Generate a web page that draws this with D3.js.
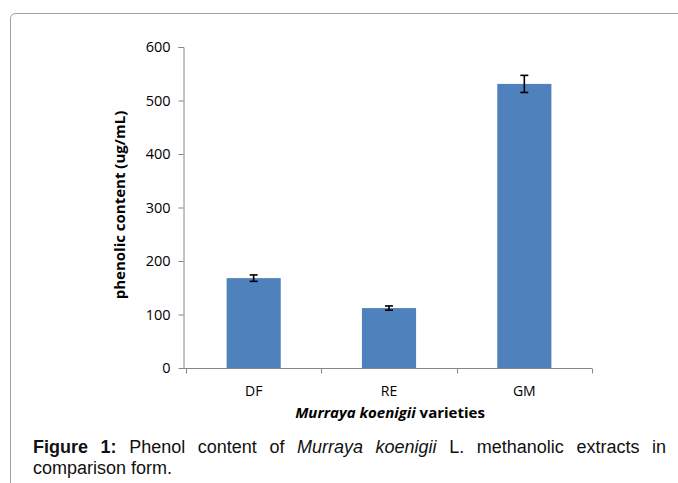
<!DOCTYPE html>
<html><head><meta charset="utf-8">
<script src="https://cdn.jsdelivr.net/npm/d3@7"></script>
<style>body{margin:0;background:#fff}svg{display:block}</style>
</head><body>
<svg id="c" width="678" height="483"></svg>
<script>
const categories = ["DF", "RE", "GM"];
const values = [168, 112, 531];
const errors = [6, 4, 16];
const yTicks = [0, 100, 200, 300, 400, 500, 600];

const svg = d3.select("#c");
const F = "'Open Sans', Lato, 'Liberation Sans', sans-serif";

// frame
svg.append("path").attr("d","M10.5,483 L10.5,19 Q10.5,13.5 16,13.5 L678,13.5")
  .attr("fill","none").attr("stroke","#a0a0a0").attr("stroke-width",1);

const x = d3.scaleBand().domain(categories).range([186, 592]).paddingInner(0.6).paddingOuter(0.3);
const y = d3.scaleLinear().domain([0, 600]).range([368, 47]);

// bars
svg.selectAll("rect.bar").data(categories).join("rect").attr("class","bar")
  .attr("x", d => x(d)).attr("width", x.bandwidth())
  .attr("y", (d,i) => y(values[i])).attr("height", (d,i) => y(0) - y(values[i]))
  .attr("fill","#4f81bd");

// error bars
const eg = svg.append("g").attr("stroke","#000").attr("stroke-width",1.6);
categories.forEach((c,i) => {
  const cx = x(c) + x.bandwidth()/2;
  const y1 = y(values[i] + errors[i]), y2 = y(values[i] - errors[i]);
  eg.append("line").attr("x1",cx).attr("x2",cx).attr("y1",y1).attr("y2",y2);
  eg.append("line").attr("x1",cx-4).attr("x2",cx+4).attr("y1",y1).attr("y2",y1);
  eg.append("line").attr("x1",cx-4).attr("x2",cx+4).attr("y1",y2).attr("y2",y2);
});

// y axis
const ya = svg.append("g").attr("transform","translate(183.5,0)")
  .call(d3.axisLeft(y).tickValues(yTicks).tickSize(5).tickPadding(8));
ya.select(".domain").attr("stroke","#868686").attr("d","M-5,"+(y(600)+0.5)+"H0.5V"+(y(0)+0.5));
ya.selectAll(".tick line").attr("stroke","#868686");
ya.selectAll(".tick text").attr("font-family",F).attr("font-size",14.5).attr("fill","#000");

// x axis
const xa = svg.append("g").attr("transform","translate(0,"+(y(0)+0.5)+")");
xa.append("line").attr("x1",183).attr("x2",592).attr("stroke","#868686");
const bounds = [x.range()[0]].concat(categories.map(c => x(c) + x.bandwidth()/2 + x.step()/2));
bounds.forEach(b => xa.append("line").attr("x1",Math.round(b)+0.5).attr("x2",Math.round(b)+0.5).attr("y1",0).attr("y2",5).attr("stroke","#868686"));
categories.forEach(c => xa.append("text").attr("x", x(c)+x.bandwidth()/2).attr("y",27)
  .attr("text-anchor","middle").attr("font-family",F).attr("font-size",14).text(c));

// axis titles
const xt = svg.append("text").attr("x",390).attr("y",417.5).attr("text-anchor","middle")
  .attr("font-family",F).attr("font-size",15).attr("font-weight","bold");
xt.append("tspan").attr("font-style","italic").text("Murraya koenigii");
xt.append("tspan").text(" varieties");

svg.append("text").attr("transform","translate(125,205) rotate(-90)").attr("text-anchor","middle")
  .attr("font-family",F).attr("font-size",15).attr("font-weight","bold").text("phenolic content (ug/mL)");

// caption (justified first line)
const CF = "'Liberation Sans', Arial, sans-serif";
const words = [
  {t:"Figure", b:true}, {t:"1:", b:true}, {t:"Phenol"}, {t:"content"}, {t:"of"},
  {t:"Murraya", i:true}, {t:"koenigii", i:true}, {t:"L."}, {t:"methanolic"}, {t:"extracts"}, {t:"in"}
];
const cap = svg.append("text").attr("y",453).attr("font-family",CF).attr("font-size",18).attr("fill","#111");
const spans = words.map(w => cap.append("tspan")
  .attr("font-weight", w.b ? "bold" : null).attr("font-style", w.i ? "italic" : null).text(w.t));
const widths = spans.map(s => s.node().getComputedTextLength());
const total = d3.sum(widths);
const gap = ((666 - 33) - total) / (words.length - 1);
let cx0 = 33;
spans.forEach((s,i) => { s.attr("x", cx0); cx0 += widths[i] + gap; });
svg.append("text").attr("x",33).attr("y",474).attr("font-family",CF).attr("font-size",18).attr("fill","#111").text("comparison form.");
</script>
</body></html>
